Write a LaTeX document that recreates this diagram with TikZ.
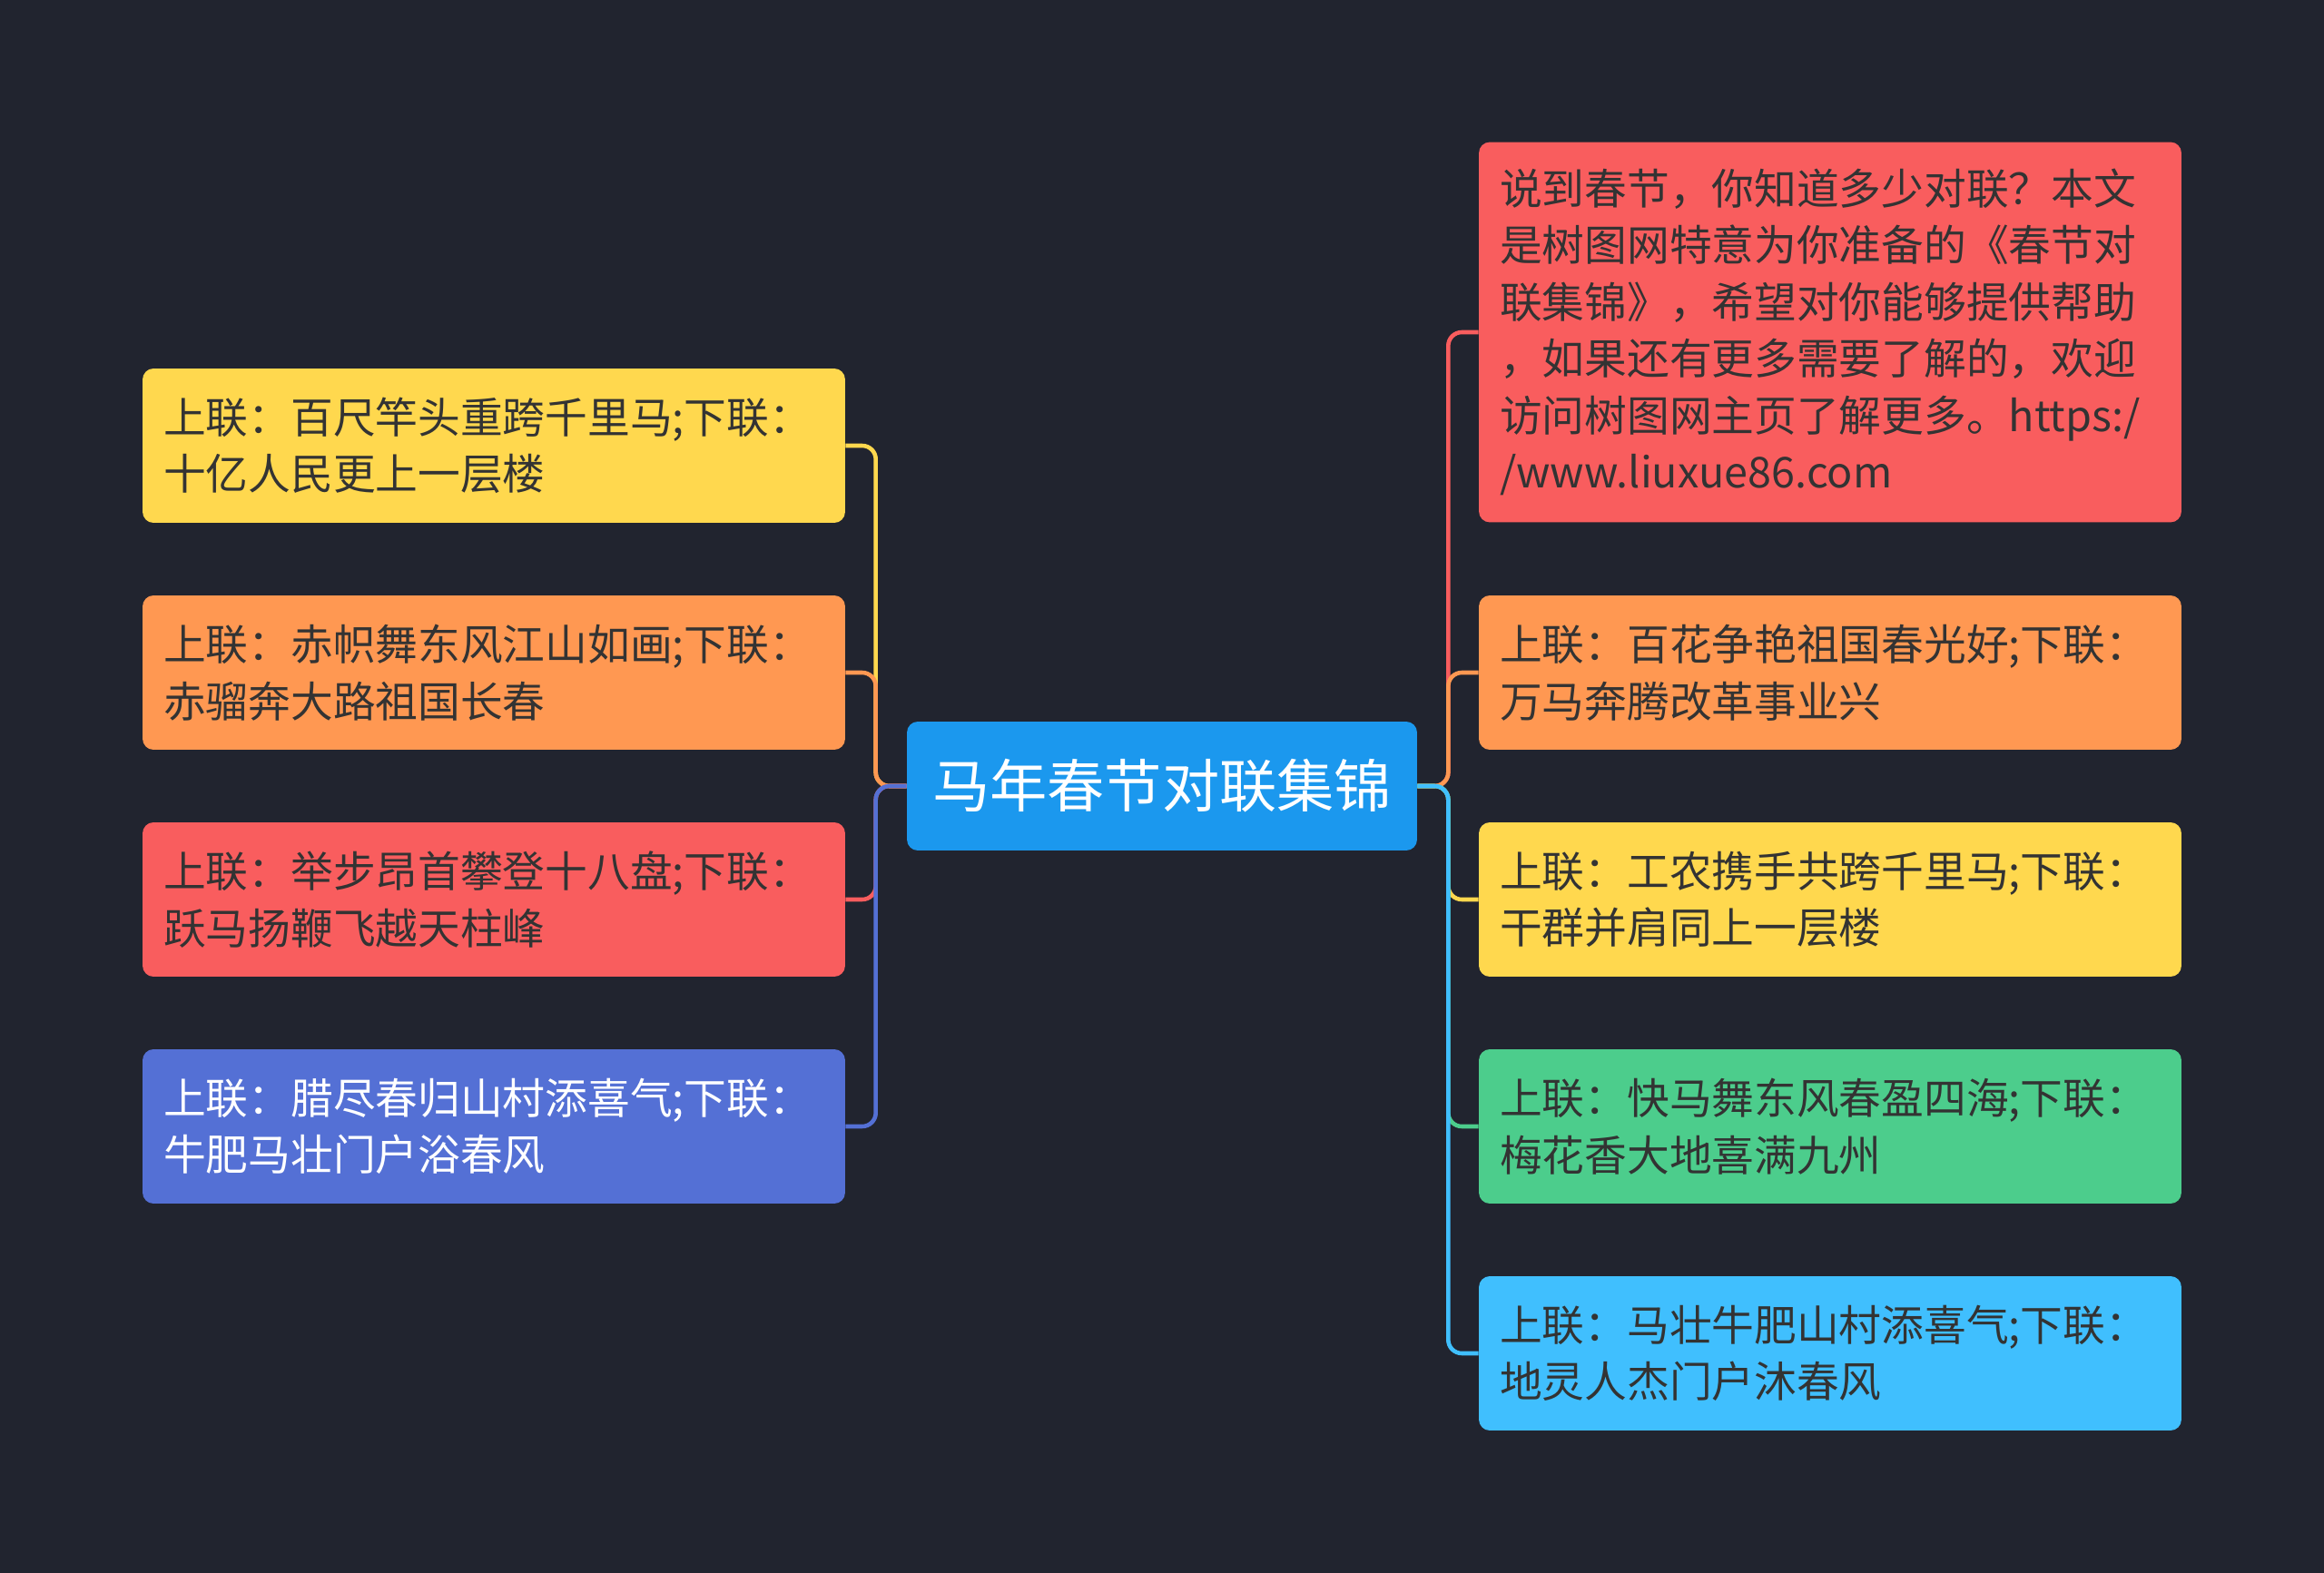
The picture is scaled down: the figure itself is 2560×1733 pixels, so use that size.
\documentclass[tikz,border=0pt]{standalone}
\usepackage{fontspec}
\setmainfont{Noto Sans CJK SC}
\usepackage{xcolor}
\usepackage{tikz}
\usetikzlibrary{calc, positioning}

\definecolor{nen}{HTML}{21242F}
\definecolor{xanhgoc}{HTML}{1B98EE}
\definecolor{vang}{HTML}{FFD84E}
\definecolor{cam}{HTML}{FF9852}
\definecolor{do}{HTML}{F95D5E}
\definecolor{tim}{HTML}{5470D5}
\definecolor{luc}{HTML}{4CCD8C}
\definecolor{lam}{HTML}{40BFFE}
\definecolor{chu}{HTML}{333333}

\begin{document}
\begin{tikzpicture}[x=0.02cm, y=-0.02cm,
    hop/.style={rounded corners=0.24cm, inner xsep=0.46cm, inner ysep=0pt,
        text width=14.56cm, align=left, minimum height=3.4cm, text=chu,
        font=\fontsize{26.6pt}{35.6pt}\selectfont},
    noi/.style={line width=2.6pt, rounded corners=0.3cm}]

    % =================================================================
    % 1. NỀN TỐI VÀ KHUNG HÌNH
    % =================================================================
    \fill[nen] (0,0) rectangle (2560,1733);
    \useasboundingbox (0,0) rectangle (2560,1733);

    % =================================================================
    % 2. NÚT TRUNG TÂM
    % =================================================================
    \node[fill=xanhgoc, rounded corners=0.24cm, minimum width=11.24cm,
        minimum height=2.84cm, text=white,
        font=\fontsize{36pt}{40pt}\selectfont] (goc) at (1280,866) {马年春节对联集锦};

    % =================================================================
    % 3. CÁC NHÁNH BÊN TRÁI
    % =================================================================
    \node[hop, fill=vang] (t1) at (544,491) {上联：百尺竿头重跨千里马;下联：\\十亿人民更上一层楼};
    \node[hop, fill=cam] (t2) at (544,741) {上联：赤帜舞东风江山如画;下联：\\赤骝奔大路祖国长春};
    \node[hop, fill=do] (t3) at (544,991) {上联：举步昂首攀登十八盘;下联：\\跃马扬鞭飞越天柱峰};
    \node[hop, fill=tim, text=white] (t4) at (544,1241) {上联：腊尽春归山村添喜气;下联：\\牛肥马壮门户浴春风};

    % =================================================================
    % 4. CÁC NHÁNH BÊN PHẢI
    % =================================================================
    \node[hop, fill=do, minimum height=8.38cm] (p1) at (2016,366) {说到春节，你知道多少对联？本文\\是树图网特意为你准备的《春节对\\联集锦》，希望对你能够提供帮助\\，如果还有更多需要了解的，欢迎\\访问树图网主页了解更多。https:/\\/www.liuxue86.com};
    \node[hop, fill=cam] (p2) at (2016,741) {上联：百花争艳祖国春光好;下联：\\万马奔腾改革事业兴};
    \node[hop, fill=vang] (p3) at (2016,991) {上联：工农携手共跨千里马;下联：\\干群并肩同上一层楼};
    \node[hop, fill=luc] (p4) at (2016,1241) {上联：快马舞东风春盈四海;下联：\\梅花香大地喜满九州};
    \node[hop, fill=lam] (p5) at (2016,1491) {上联：马壮牛肥山村添喜气;下联：\\地灵人杰门户沐春风};

    % =================================================================
    % 5. ĐƯỜNG NỐI
    % =================================================================
    \draw[noi, vang] (goc.west) -- ++(-34,0) |- (t1.east);
    \draw[noi, cam] (goc.west) -- ++(-34,0) |- (t2.east);
    \draw[noi, do] (goc.west) -- ++(-34,0) |- (t3.east);
    \draw[noi, tim] (goc.west) -- ++(-34,0) |- (t4.east);

    \draw[noi, do] (goc.east) -- ++(34,0) |- (p1.west);
    \draw[noi, cam] (goc.east) -- ++(34,0) |- (p2.west);
    \draw[noi, vang] (goc.east) -- ++(34,0) |- (p3.west);
    \draw[noi, luc] (goc.east) -- ++(34,0) |- (p4.west);
    \draw[noi, lam] (goc.east) -- ++(34,0) |- (p5.west);

\end{tikzpicture}
\end{document}
